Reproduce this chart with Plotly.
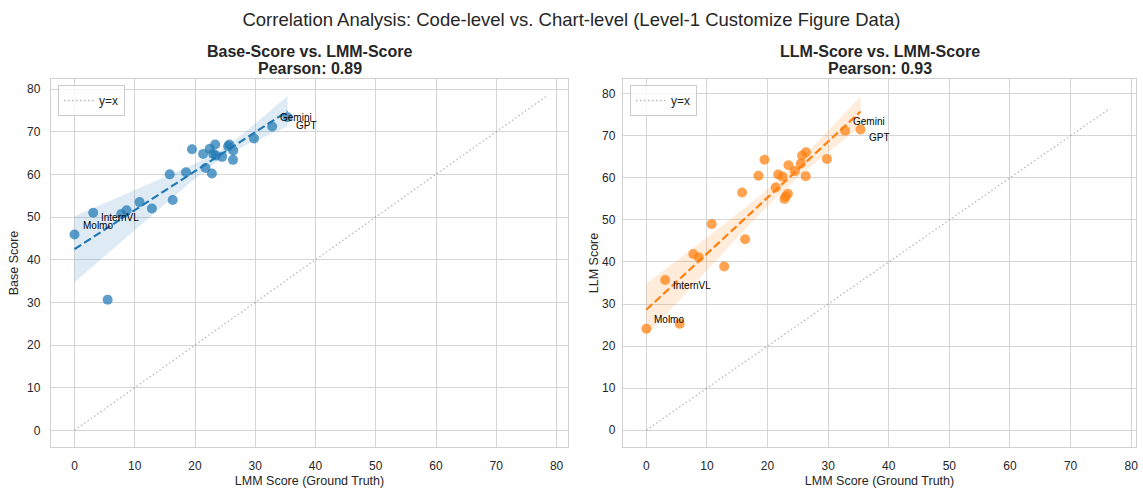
import numpy as np
import plotly.graph_objects as go

# ---------------- data ----------------
lmm_score = [0.0, 3.1, 5.5, 7.75, 8.65, 10.8, 12.85, 15.8, 16.3, 18.5, 19.5, 21.35, 21.75,
             22.45, 22.8, 23.0, 23.35, 23.45, 24.5, 25.5, 25.7, 26.35, 26.3, 29.8, 32.8, 35.35]
base_score = [45.9, 51.0, 30.6, 50.7, 51.6, 53.5, 52.0, 60.0, 54.0, 60.5, 65.9, 64.8, 61.5,
              66.0, 60.2, 64.8, 67.0, 64.4, 64.1, 66.6, 67.0, 65.6, 63.4, 68.4, 71.2, 73.4]
llm_score = [24.1, 35.7, 25.3, 41.9, 41.1, 49.0, 38.9, 56.5, 45.4, 60.5, 64.3, 57.7, 60.8,
             60.3, 55.0, 55.6, 56.2, 63.0, 61.6, 63.4, 65.3, 66.1, 60.4, 64.5, 71.2, 71.5]
model_labels = ["Molmo", "InternVL", "", "", "", "", "", "", "", "", "", "", "",
                "", "", "", "", "", "", "", "", "", "", "", "Gemini", "GPT"]
# label offsets in px (x, y up)
label_shift = {"Molmo": (6, 9), "InternVL": (6, -5), "Gemini": (6, 9), "GPT": (6, -8)}

title_line1 = ["Base-Score vs. LMM-Score", "LLM-Score vs. LMM-Score"]
title_line2 = ["Pearson: 0.89", "Pearson: 0.93"]
y_titles = ["Base Score", "LLM Score"]
x_title = "LMM Score (Ground Truth)"
main_title = "Correlation Analysis: Code-level vs. Chart-level (Level-1 Customize Figure Data)"
colors = ["31,119,180", "255,127,14"]
tick_vals = [0, 10, 20, 30, 40, 50, 60, 70, 80]

FONT = "Liberation Sans, Arial, sans-serif"
W, H = 1143, 488

# panel pixel boxes
panels = [dict(x0=51, x1=568, y0=79, y1=447, xr=[-3.9, 81.9], yr=[-3.9, 82.35], tl=7, ts=5),
          dict(x0=623, x1=1136, y0=79, y1=447, xr=[-3.85, 80.8], yr=[-4.0, 83.5], tl=4, ts=0)]

fig = go.Figure()
T975 = 2.064  # t quantile, df = n - 2

series = [base_score, llm_score]
for i, ys in enumerate(series):
    xa = "x" if i == 0 else "x2"
    ya = "y" if i == 0 else "y2"
    c = colors[i]
    x = np.array(lmm_score)
    y = np.array(ys)
    n = len(x)
    X = np.column_stack([np.ones(n), x])
    XtX_inv = np.linalg.inv(X.T @ X)
    beta = XtX_inv @ X.T @ y
    resid = y - X @ beta
    lev = np.einsum("ij,jk,ik->i", X, XtX_inv, X)
    meat = X.T @ (X * (resid ** 2 / (1 - lev) ** 2)[:, None])
    V = XtX_inv @ meat @ XtX_inv  # robust (HC3) covariance
    grid = np.linspace(x.min(), x.max(), 100)
    G = np.column_stack([np.ones_like(grid), grid])
    fit = G @ beta
    se = np.sqrt(np.einsum("ij,jk,ik->i", G, V, G))
    lo = fit - T975 * se
    hi = fit + T975 * se
    lim = max(x.max(), y.max()) + 5

    legend_name = "legend" if i == 0 else "legend2"
    fig.add_trace(go.Scatter(x=[0, lim], y=[0, lim], mode="lines", name="y=x",
                             line=dict(color="rgba(128,128,128,0.55)", width=1.3, dash="1.5px,2.5px"),
                             xaxis=xa, yaxis=ya, legend=legend_name, showlegend=True))
    fig.add_trace(go.Scatter(x=grid, y=lo, mode="lines", line=dict(width=0),
                             xaxis=xa, yaxis=ya, showlegend=False, hoverinfo="skip"))
    fig.add_trace(go.Scatter(x=grid, y=hi, mode="lines", line=dict(width=0), fill="tonexty",
                             fillcolor=f"rgba({c},0.15)",
                             xaxis=xa, yaxis=ya, showlegend=False, hoverinfo="skip"))
    fig.add_trace(go.Scatter(x=x, y=y, mode="markers",
                             marker=dict(size=10, color=f"rgba({c},0.72)", line=dict(width=0)),
                             xaxis=xa, yaxis=ya, showlegend=False))
    fig.add_trace(go.Scatter(x=grid, y=fit, mode="lines",
                             line=dict(color=f"rgb({c})", width=2.2, dash="8px,3.5px"),
                             xaxis=xa, yaxis=ya, showlegend=False))
    for j, lab in enumerate(model_labels):
        if lab:
            dx, dy = label_shift[lab]
            fig.add_annotation(x=x[j], y=y[j], xref=xa, yref=ya, text=lab, showarrow=False,
                               xanchor="left", yanchor="middle", xshift=dx, yshift=dy,
                               font=dict(size=10, color="black", family=FONT))

axis_common = dict(showgrid=True, gridcolor="#d5d5d5", gridwidth=1, zeroline=False,
                   showline=True, linecolor="#d0d0d0", linewidth=1.3, mirror=True,
                   tickvals=tick_vals, ticks="outside", tickcolor="rgba(0,0,0,0)",
                   tickfont=dict(size=12, color="#262626", family=FONT), automargin=False)

layout = dict(width=W, height=H, margin=dict(l=0, r=0, t=0, b=0),
              plot_bgcolor="white", paper_bgcolor="white",
              font=dict(family=FONT, color="#262626"))
for i, p in enumerate(panels):
    sx = "" if i == 0 else "2"
    layout["xaxis" + sx] = dict(axis_common, domain=[p["x0"] / W, p["x1"] / W], range=p["xr"],
                                anchor="y" + sx, ticklen=7,
                                title=dict(text=x_title, font=dict(size=12.5, color="#262626"), standoff=5))
    layout["yaxis" + sx] = dict(axis_common, domain=[1 - p["y1"] / H, 1 - p["y0"] / H], range=p["yr"],
                                anchor="x" + sx, ticklen=p["tl"],
                                title=dict(text=y_titles[i], font=dict(size=12.5, color="#262626"),
                                           standoff=p["ts"]))
    cx = (p["x0"] + p["x1"]) / 2 / W
    fig.add_annotation(x=cx, y=1 - 51.3 / H, xref="paper", yref="paper",
                       text="<b>" + title_line1[i] + "</b>", showarrow=False,
                       xanchor="center", yanchor="middle",
                       font=dict(size=16, color="#262626", family=FONT))
    fig.add_annotation(x=cx, y=1 - 68.3 / H, xref="paper", yref="paper",
                       text="<b>" + title_line2[i] + "</b>", showarrow=False,
                       xanchor="center", yanchor="middle",
                       font=dict(size=16, color="#262626", family=FONT))

layout["title"] = dict(text=main_title, x=0.5, xanchor="center", y=1 - 20 / H, yanchor="middle",
                       font=dict(size=18.5, color="#262626", family=FONT))
leg_common = dict(bgcolor="rgba(255,255,255,0.8)", bordercolor="#cccccc", borderwidth=1,
                  font=dict(size=12, color="#262626", family=FONT), xanchor="left", yanchor="top",
                  itemwidth=30)
layout["legend"] = dict(leg_common, x=58 / W, y=1 - 85 / H)
layout["legend2"] = dict(leg_common, x=630 / W, y=1 - 85 / H)
fig.update_layout(**layout)

fig.write_html("out.html", config={"displayModeBar": False},
               post_script="document.body.style.margin='0px';")
